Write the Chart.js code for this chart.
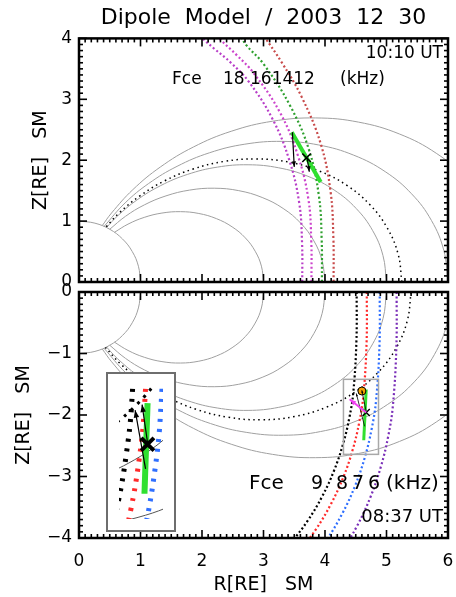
<!DOCTYPE html>
<html lang="en">
<head>
<meta charset="UTF-8">
<title>Dipole Model / 2003 12 30</title>
<script src="https://cdn.jsdelivr.net/npm/chart.js"></script>
<style>
    body { margin: 0; background: #fff; }
    #page { position: relative; width: 456px; height: 597px; }
    #page canvas { position: absolute; }
</style>
</head>
<body>
<div id="page">
    <canvas id="north" width="456" height="597" style="left:0;top:0"></canvas>
    <canvas id="south" width="456" height="597" style="left:0;top:0"></canvas>
    <canvas id="inset" width="70" height="160" style="left:106px;top:372px"></canvas>
</div>

<script>
// ---- axes ----
const rTicks = [0, 1, 2, 3, 4, 5, 6];
const zTicksNorth = [0, 1, 2, 3, 4];
const zTicksSouth = [-4, -3, -2, -1, 0];
const fceNorth = ['18', '16', '14', '12'];   // kHz
const fceSouth = ['9', '8', '7', '6'];       // kHz

// ---- 10:10 UT panel (northern hemisphere), points as [R, Z] ----
const earthNorth = [[1, 0], [0.966, 0.259], [0.866, 0.5], [0.707, 0.707], [0.5, 0.866], [0.259, 0.966], [0, 1]];
const shellL3North = [[3, 0], [2.966, 0.26], [2.865, 0.505], [2.704, 0.725], [2.489, 0.906], [2.233, 1.041], [1.949, 1.125], [1.649, 1.155], [1.349, 1.132], [1.061, 1.061], [0.797, 0.95], [0.577, 0.816]];
const shellL4North = [[4, 0], [3.954, 0.346], [3.82, 0.674], [3.605, 0.966], [3.319, 1.208], [2.978, 1.388], [2.598, 1.5], [2.199, 1.54], [1.798, 1.509], [1.414, 1.414], [1.062, 1.266], [0.755, 1.078], [0.5, 0.866]];
const shellL5North = [[5, 0], [4.943, 0.433], [4.776, 0.842], [4.506, 1.208], [4.149, 1.51], [3.722, 1.736], [3.248, 1.875], [2.749, 1.925], [2.248, 1.886], [1.768, 1.768], [1.328, 1.583], [0.944, 1.348], [0.625, 1.083], [0.447, 0.894]];
const shellL6North = [[6, 0], [5.932, 0.519], [5.731, 1.01], [5.407, 1.449], [4.979, 1.812], [4.466, 2.083], [3.897, 2.25], [3.298, 2.309], [2.697, 2.263], [2.122, 2.122], [1.594, 1.899], [1.132, 1.617], [0.75, 1.299], [0.408, 0.913]];
const shellL7North = [[7, 0], [6.92, 0.606], [6.686, 1.179], [6.308, 1.69], [5.809, 2.114], [5.211, 2.43], [4.547, 2.625], [3.848, 2.694], [3.147, 2.64], [2.475, 2.475], [1.859, 2.216], [1.321, 1.887], [0.875, 1.516], [0.529, 1.133], [0.378, 0.926]];
const shellSatNorth = [[5.25, 0], [5.19, 0.454], [5.014, 0.884], [4.731, 1.268], [4.356, 1.586], [3.908, 1.822], [3.41, 1.969], [2.886, 2.021], [2.36, 1.98], [1.856, 1.856], [1.394, 1.662], [0.991, 1.415], [0.656, 1.137], [0.436, 0.9]];
const fce18 = [[3.63, 0], [3.627, 0.639], [3.58, 1.305], [3.42, 2.0], [3.15, 2.67], [2.76, 3.29], [2.47, 3.6], [2.2, 3.83], [1.95, 4.05]];
const fce16 = [[3.78, 0], [3.777, 0.666], [3.73, 1.36], [3.56, 2.075], [3.27, 2.78], [2.84, 3.43], [2.57, 3.72], [2.3, 3.98], [2.25, 4.05]];
const fce14 = [[3.95, 0], [3.946, 0.696], [3.9, 1.42], [3.74, 2.17], [3.43, 2.9], [3.0, 3.58], [2.72, 3.89], [2.62, 4.05]];
const fce12 = [[4.14, 0], [4.136, 0.729], [4.09, 1.488], [3.93, 2.27], [3.62, 3.04], [3.3, 3.6], [3.0, 4.05]];
const pathNorth = [[3.46, 2.46], [3.93, 1.64]];
const crossNorth = [[3.70, 2.04]];
const arrowsNorth = [[3.47, 2.46, 3.50, 1.89], [3.71, 2.03, 3.745, 1.81]];

// ---- 08:37 UT panel (southern hemisphere) ----
const earthSouth = [[1, 0], [0.966, -0.259], [0.866, -0.5], [0.707, -0.707], [0.5, -0.866], [0.259, -0.966], [0, -1]];
const shellL3South = [[3, 0], [2.966, -0.26], [2.865, -0.505], [2.704, -0.725], [2.489, -0.906], [2.233, -1.041], [1.949, -1.125], [1.649, -1.155], [1.349, -1.132], [1.061, -1.061], [0.797, -0.95], [0.577, -0.816]];
const shellL4South = [[4, 0], [3.954, -0.346], [3.82, -0.674], [3.605, -0.966], [3.319, -1.208], [2.978, -1.388], [2.598, -1.5], [2.199, -1.54], [1.798, -1.509], [1.414, -1.414], [1.062, -1.266], [0.755, -1.078], [0.5, -0.866]];
const shellL5South = [[5, 0], [4.943, -0.433], [4.776, -0.842], [4.506, -1.208], [4.149, -1.51], [3.722, -1.736], [3.248, -1.875], [2.749, -1.925], [2.248, -1.886], [1.768, -1.768], [1.328, -1.583], [0.944, -1.348], [0.625, -1.083], [0.447, -0.894]];
const shellL6South = [[6.05, 0], [5.981, -0.523], [5.778, -1.019], [5.452, -1.461], [5.02, -1.827], [4.504, -2.1], [3.929, -2.269], [3.326, -2.329], [2.719, -2.282], [2.139, -2.139], [1.607, -1.915], [1.142, -1.63], [0.756, -1.31], [0.407, -0.914]];
const shellL7South = [[7, 0], [6.92, -0.606], [6.686, -1.179], [6.308, -1.69], [5.809, -2.114], [5.211, -2.43], [4.547, -2.625], [3.848, -2.694], [3.147, -2.64], [2.475, -2.475], [1.859, -2.216], [1.321, -1.887], [0.875, -1.516], [0.529, -1.133], [0.378, -0.926]];
const shellSatSouth = [[5.4, 0], [5.338, -0.467], [5.158, -0.909], [4.866, -1.304], [4.481, -1.631], [4.02, -1.874], [3.507, -2.025], [2.968, -2.078], [2.427, -2.037], [1.909, -1.909], [1.434, -1.709], [1.019, -1.455], [0.675, -1.169], [0.43, -0.903]];
const fce9 = [[4.515, 0], [4.511, -0.795], [4.461, -1.624], [4.395, -2.049], [4.292, -2.478], [4.147, -2.904], [3.956, -3.32], [3.719, -3.719], [3.437, -4.096]];
const fce8 = [[4.68, 0], [4.676, -0.824], [4.624, -1.683], [4.556, -2.124], [4.449, -2.569], [4.299, -3.01], [4.1, -3.441], [3.855, -3.855], [3.563, -4.246]];
const fce7 = [[4.89, 0], [4.886, -0.861], [4.831, -1.758], [4.76, -2.22], [4.649, -2.684], [4.492, -3.145], [4.285, -3.595], [4.028, -4.028], [3.72, -4.43]];
const fce6 = [[5.165, 0], [5.16, -0.91], [5.103, -1.857], [5.028, -2.345], [4.91, -2.835], [4.744, -3.322], [4.525, -3.798], [4.255, -4.255]];
const pathSouth = [[4.67, -1.585], [4.63, -2.41]];
const crossSouth = [[4.67, -1.96]];
const sourceSouth = [[4.60, -1.61]];
const arrowsSouth = [[4.644, -2.184, 4.509, -1.649], [4.672, -1.955, 4.599, -1.598]];
const wavevectorSouth = [[4.67, -1.96, 4.40, -1.745]];
const zoomBox = {r: [4.30, 4.87], z: [-2.64, -1.42]};

// ---- helpers ----
Chart.defaults.font.family = "'DejaVu Sans', sans-serif";
Chart.defaults.color = '#000';
Chart.defaults.animation = false;

const GRAY = '#a0a0a0';
const toXY = a => a.map(([x, y]) => ({x, y}));

function curve(data, color, width, dash, tension) {
    return {
        data: toXY(data), showLine: true, borderColor: color, borderWidth: width,
        borderDash: dash || [], pointRadius: 0, tension: tension === undefined ? 0.4 : tension
    };
}

function marker(data, style, radius, width, color, fillColor) {
    return {
        data: toXY(data), showLine: false, pointStyle: style, pointRadius: radius,
        pointBorderWidth: width, pointBorderColor: color, pointBackgroundColor: fillColor || color
    };
}

function drawArrow(ctx, sx, sy, a, color, width, head) {
    const x0 = sx.getPixelForValue(a[0]), y0 = sy.getPixelForValue(a[1]);
    const x1 = sx.getPixelForValue(a[2]), y1 = sy.getPixelForValue(a[3]);
    const ang = Math.atan2(y1 - y0, x1 - x0);
    ctx.strokeStyle = color;
    ctx.fillStyle = color;
    ctx.lineWidth = width;
    ctx.beginPath();
    ctx.moveTo(x0, y0);
    ctx.lineTo(x1, y1);
    ctx.stroke();
    ctx.beginPath();
    ctx.moveTo(x1, y1);
    ctx.lineTo(x1 - head * Math.cos(ang - 0.35), y1 - head * Math.sin(ang - 0.35));
    ctx.lineTo(x1 - head * Math.cos(ang + 0.35), y1 - head * Math.sin(ang + 0.35));
    ctx.closePath();
    ctx.fill();
}

// inward minor ticks every 0.1 on all four sides of the plot box
function drawFrame(chart) {
    const {ctx, chartArea: a, scales: {x, y}} = chart;
    ctx.save();
    ctx.strokeStyle = '#000';
    ctx.lineWidth = 1.6;
    ctx.setLineDash([]);
    const segs = [];
    for (let i = Math.round(x.min * 10); i <= Math.round(x.max * 10); i++) {
        const p = x.getPixelForValue(i / 10), len = i % 10 === 0 ? 8 : 4;
        segs.push([p, a.bottom, p, a.bottom - len], [p, a.top, p, a.top + len]);
    }
    for (let i = Math.round(y.min * 10); i <= Math.round(y.max * 10); i++) {
        const p = y.getPixelForValue(i / 10), len = i % 10 === 0 ? 8 : 4;
        segs.push([a.left, p, a.left + len, p], [a.right, p, a.right - len, p]);
    }
    segs.forEach(s => {
        ctx.beginPath();
        ctx.moveTo(s[0], s[1]);
        ctx.lineTo(s[2], s[3]);
        ctx.stroke();
    });
    ctx.lineWidth = 2.5;
    ctx.strokeRect(a.left, a.top, a.right - a.left, a.bottom - a.top);
    ctx.restore();
}

// frame, text labels, arrows, zoom box
const decor = {
    id: 'decor',
    beforeDraw(chart, args, o) {
        if (!o.background) return;
        const ctx = chart.ctx;
        ctx.save();
        ctx.fillStyle = o.background;
        ctx.fillRect(0, 0, chart.width, chart.height);
        ctx.restore();
    },
    afterDatasetsDraw(chart, args, o) {
        const {ctx, scales: {x, y}} = chart;
        ctx.save();
        (o.boxes || []).forEach(b => {
            ctx.strokeStyle = '#a8a8a8';
            ctx.lineWidth = 1.5;
            const l = x.getPixelForValue(b.r[0]), r = x.getPixelForValue(b.r[1]);
            const t = y.getPixelForValue(b.z[1]), btm = y.getPixelForValue(b.z[0]);
            ctx.strokeRect(l, t, r - l, btm - t);
        });
        (o.arrows || []).forEach(s => s.data.forEach(a => drawArrow(ctx, x, y, a, s.color, s.width, s.head)));
        ctx.restore();
    },
    afterDraw(chart, args, o) {
        const ctx = chart.ctx;
        if (o.frame) drawFrame(chart);
        ctx.save();
        if (o.border) {
            ctx.strokeStyle = o.border;
            ctx.lineWidth = 2;
            ctx.strokeRect(1, 1, chart.width - 2, chart.height - 2);
        }
        ctx.fillStyle = '#000';
        ctx.textBaseline = 'middle';
        (o.texts || []).forEach(t => {
            ctx.font = t.size + "px 'DejaVu Sans', sans-serif";
            ctx.textAlign = t.align || 'left';
            ctx.fillText(t.t, t.x, t.y);
        });
        ctx.restore();
    }
};
Chart.register(decor);

function panelScales(zTicks, zTitlePad, showR) {
    return {
        x: {
            type: 'linear', min: rTicks[0], max: rTicks[rTicks.length - 1],
            grid: {display: false, drawTicks: false}, border: {display: false},
            afterBuildTicks: s => { s.ticks = rTicks.map(v => ({value: v})); },
            ticks: {display: showR, padding: 13, font: {size: 17}},
            title: {display: showR, text: 'R[RE]   SM', font: {size: 19}, padding: {top: 1, bottom: 1}},
            afterFit: s => { s.height = showR ? 59 : 0; s.paddingLeft = 0; s.paddingRight = 0; }
        },
        y: {
            type: 'linear', min: zTicks[0], max: zTicks[zTicks.length - 1],
            grid: {display: false, drawTicks: false}, border: {display: false},
            afterBuildTicks: s => { s.ticks = zTicks.map(v => ({value: v})); },
            ticks: {padding: 7, font: {size: 17}, callback: v => String(v).replace('-', '\u2212')},
            title: {display: true, text: 'Z[RE]   SM', font: {size: 19}, padding: {top: zTitlePad, bottom: 0}},
            afterFit: s => { s.width = 79; s.paddingTop = 0; s.paddingBottom = 0; }
        }
    };
}

const DOT = [2, 2.4];

// ---- 10:10 UT ----
new Chart(document.getElementById('north'), {
    type: 'scatter',
    data: {
        datasets: [
            marker(crossNorth, 'crossRot', 6, 1.6, '#000'),
            curve(pathNorth, '#30e030', 4, [], 0),
            curve(fce18, '#b83ec8', 2.2, DOT),
            curve(fce16, '#cc44cc', 2.2, DOT),
            curve(fce14, '#2ea02e', 2.2, DOT),
            curve(fce12, '#c84a4a', 2.2, DOT),
            curve(shellSatNorth, '#000', 1.5, [1.5, 3.5]),
            curve(earthNorth, GRAY, 1),
            curve(shellL3North, GRAY, 1),
            curve(shellL4North, GRAY, 1),
            curve(shellL5North, GRAY, 1),
            curve(shellL6North, GRAY, 1),
            curve(shellL7North, GRAY, 1)
        ]
    },
    options: {
        responsive: false,
        events: [],
        layout: {padding: {left: 0, right: 8, top: 0, bottom: 315}},
        scales: panelScales(zTicksNorth, 30, false),
        plugins: {
            legend: {display: false},
            tooltip: {enabled: false},
            title: {
                display: true, text: 'Dipole  Model  /  2003  12  30', fullSize: false,
                font: {size: 22, weight: 'normal'}, padding: {top: 5, bottom: 7}
            },
            decor: {
                frame: true,
                arrows: [{data: arrowsNorth, color: '#000', width: 1.2, head: 6}],
                texts: [
                    {t: '10:10 UT', x: 443, y: 54, align: 'right', size: 17},
                    {t: 'Fce', x: 172, y: 80, size: 17},
                    {t: fceNorth[0] + ' ' + fceNorth.slice(1).join(''), x: 223, y: 80, size: 17},
                    {t: '(kHz)', x: 340, y: 80, size: 17}
                ]
            }
        }
    }
});

// ---- 08:37 UT ----
new Chart(document.getElementById('south'), {
    type: 'scatter',
    data: {
        datasets: [
            marker(sourceSouth, 'circle', 4, 1, '#000', '#f5a300'),
            marker(crossSouth, 'crossRot', 5, 1.4, '#000'),
            curve(pathSouth, '#30e030', 3, [], 0),
            curve(fce9, '#000', 2.2, DOT),
            curve(fce8, '#ff2a2a', 2.2, DOT),
            curve(fce7, '#2f6fff', 2.2, DOT),
            curve(fce6, '#7a2fb8', 2.2, DOT),
            curve(shellSatSouth, '#000', 1.5, [1.5, 3.5]),
            curve(earthSouth, GRAY, 1),
            curve(shellL3South, GRAY, 1),
            curve(shellL4South, GRAY, 1),
            curve(shellL5South, GRAY, 1),
            curve(shellL6South, GRAY, 1),
            curve(shellL7South, GRAY, 1)
        ]
    },
    options: {
        responsive: false,
        events: [],
        layout: {padding: {left: 0, right: 8, top: 292, bottom: 0}},
        scales: panelScales(zTicksSouth, 13, true),
        plugins: {
            legend: {display: false},
            tooltip: {enabled: false},
            decor: {
                frame: true,
                boxes: [zoomBox],
                arrows: [
                    {data: arrowsSouth, color: '#000', width: 0.8, head: 3},
                    {data: wavevectorSouth, color: '#f040f0', width: 2, head: 7}
                ],
                texts: [
                    {t: 'Fce', x: 249, y: 484, size: 20},
                    {t: fceSouth[0], x: 311, y: 484, size: 19},
                    {t: fceSouth[1], x: 336, y: 484, size: 19},
                    {t: fceSouth[2], x: 352, y: 484, size: 19},
                    {t: fceSouth[3], x: 368, y: 484, size: 19},
                    {t: '(kHz)', x: 386, y: 484, size: 20},
                    {t: '08:37 UT', x: 443, y: 517, align: 'right', size: 18}
                ]
            }
        }
    }
});

// ---- magnified view of the grey box ----
new Chart(document.getElementById('inset'), {
    type: 'scatter',
    data: {
        datasets: [
            marker(crossSouth, 'crossRot', 9, 4, '#000'),
            curve(pathSouth, '#30e030', 6, [], 0),
            curve(fce9, '#000', 5, [3, 7]),
            curve(fce8, '#ff2a2a', 5, [3, 7]),
            curve(fce7, '#2f6fff', 5, [3, 7]),
            curve(shellSatSouth, '#000', 3, [3, 6]),
            curve(shellL5South, '#555', 1),
            curve(shellL6South, '#555', 1),
            curve(shellL7South, '#555', 1)
        ]
    },
    options: {
        responsive: false,
        events: [],
        layout: {padding: 0},
        scales: {
            x: {type: 'linear', display: false, min: zoomBox.r[0], max: zoomBox.r[1]},
            y: {type: 'linear', display: false, min: zoomBox.z[0], max: zoomBox.z[1]}
        },
        plugins: {
            legend: {display: false},
            tooltip: {enabled: false},
            decor: {
                background: '#fff',
                border: '#6e6e6e',
                arrows: [{data: arrowsSouth, color: '#000', width: 1.2, head: 8}]
            }
        }
    }
});
</script>
</body>
</html>
